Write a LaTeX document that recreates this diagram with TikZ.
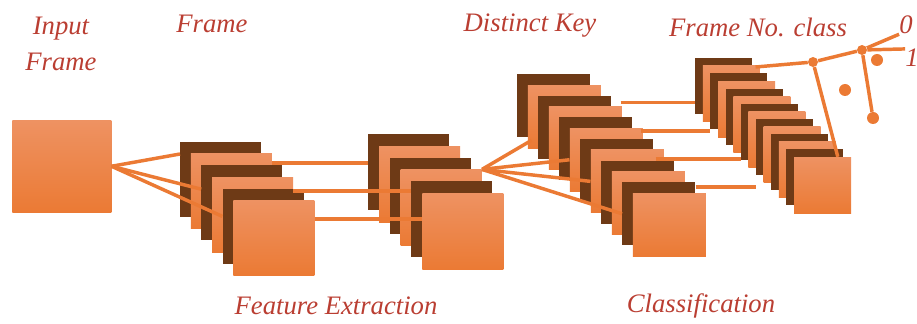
\documentclass[tikz,border=0pt]{standalone}
\usepackage{fontspec}
\setmainfont{Liberation Serif}
\usetikzlibrary{positioning,calc}

\definecolor{layorange}{RGB}{235,122,52}
\definecolor{laylight}{RGB}{238,146,98}
\definecolor{laybrown}{RGB}{110,58,22}
\definecolor{labred}{RGB}{186,62,50}

\tikzset{
  orsq/.style={top color=laylight, bottom color=layorange, draw=none, inner sep=0pt, anchor=north west},
  brsq/.style={fill=laybrown, draw=none, inner sep=0pt, anchor=north west},
  layer/.code={\ifodd#1\pgfkeysalso{/tikz/brsq}\else\pgfkeysalso{/tikz/orsq}\fi},
  wire/.style={draw=layorange, line width=2.6pt},
  knot/.style={circle, fill=layorange, inner sep=0pt, minimum size=7.5pt},
  blob/.style={circle, fill=layorange, inner sep=0pt, minimum size=9pt},
  lab/.style={text=labred, font=\fontsize{20}{27}\selectfont\itshape, inner sep=0pt},
}

\begin{document}
\begin{tikzpicture}[x=0.75pt,y=0.75pt,yscale=-1,xscale=1]
\useasboundingbox (0,0) rectangle (917,324);

% input frame
\node[orsq, minimum width=74.25pt, minimum height=69pt] (inp) at (12,120) {};

% feature extraction
\foreach \i in {1,...,6}
  \node[layer=\i, minimum width=60.75pt, minimum height=56.25pt] (fa\i) at ({180+10.6*(\i-1)},{142+11.6*(\i-1)}) {};
\draw[wire] (inp.east) -- ($(fa1.north west)+(0,12)$);
\draw[wire] (inp.east) -- ($(fa3.north west)+(0,24)$);
\draw[wire] (inp.east) -- ($(fa5.north west)+(0,28)$);

\foreach \i in {1,...,6}
  \node[layer=\i, minimum width=60.75pt, minimum height=57pt] (fb\i) at ({368+10.8*(\i-1)},{134+11.8*(\i-1)}) {};
\coordinate (ha1) at ($(fa2.north east)+(0,9.5)$);
\coordinate (ha2) at ($(fa4.north east)+(0,14)$);
\coordinate (ha3) at ($(fa6.north east)+(0,19)$);
\draw[wire] (ha1) -- (ha1 -| fb1.west);
\draw[wire] (ha2) -- (ha2 -| fb5.west);
\draw[wire] (ha3) -- (ha3 -| fb6.west);

% classification
\foreach \i in {1,...,12}
  \node[layer=\i, minimum width=54.75pt, minimum height=47.25pt] (fc\i) at ({517+10.5*(\i-1)},{74+10.8*(\i-1)}) {};
\draw[wire] (fb4.north east) -- ($(fc2.south west)+(4,-8)$);
\draw[wire] (fb4.north east) -- (fc6.west);
\draw[wire] (fb4.north east) -- (fc8.west);
\draw[wire] (fb4.north east) -- (fc11.west);

\foreach \i in {1,...,14}
  \node[layer=\i, minimum width=42.75pt, minimum height=42pt] (fd\i) at ({695+7.6*(\i-1)},{58+7.6*(\i-1)}) {};
\coordinate (hc1) at ($(fc3.north east)+(9,7)$);
\coordinate (hc2) at ($(fc5.north east)+(8,14)$);
\coordinate (hc3) at ($(fc7.north east)+(2,20)$);
\coordinate (hc4) at ($(fc11.north east)+(0,5)$);
\draw[wire] (hc1) -- (hc1 -| fd1.west);
\draw[wire] (hc2) -- (hc2 -| fd3.west);
\draw[wire] (hc3) -- (hc3 -| fd7.west);
\draw[wire] (hc4) -- (hc4 -| fd9.west);

% labels
\node[lab, align=center] (tin) at (61,44) {Input\\Frame};
\node[lab] (tfr) at (212,24) {Frame};
\node[lab] (tdk) at (530,26) {Distinct Key};
\node[lab] (tfn) at (758,27) {Frame No. class};
\node[lab] (o0) at (906,25) {0};
\node[lab] (o1) at (912,58) {1};
\node[lab] (tfe) at (336,306) {Feature Extraction};
\node[lab] (tcl) at (701,306) {Classification};

% output
\node[knot] (k1) at (813,62) {};
\node[knot] (k2) at (862,50) {};
\node[blob] (d1) at (877,60) {};
\node[blob] (d2) at (845,90) {};
\node[blob] (d3) at (873,118) {};
\draw[wire] ($(fd1.north east)+(3,9)$) -- (k1) -- (k2) -- (o0.south west);
\draw[wire] (k2) -- (o1.north west);
\draw[wire] (k1) -- ($(fd14.north west)+(44,0)$);
\draw[wire] (k2) -- (d3);
\end{tikzpicture}
\end{document}
